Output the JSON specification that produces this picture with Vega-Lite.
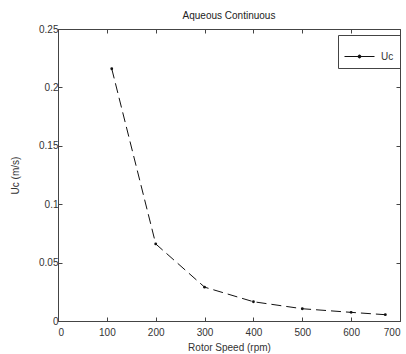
{
  "$schema": "https://vega.github.io/schema/vega-lite/v6.json",
  "autosize": {"type": "none"},
  "width": 342,
  "height": 292,
  "padding": {"left": 58, "top": 29, "right": 6, "bottom": 33},
  "background": "white",
  "title": {"text": "Aqueous Continuous", "font": "Liberation Sans", "fontSize": 10, "fontWeight": "normal", "color": "#222", "offset": 3},
  "config": {
    "view": {"stroke": "#444", "strokeWidth": 1},
    "axis": {"grid": false, "domainColor": "#444", "tickColor": "#444", "labelFont": "Liberation Sans", "labelFontSize": 10, "labelColor": "#333", "titleFont": "Liberation Sans", "titleFontSize": 10, "titleFontWeight": "normal", "titleColor": "#333", "tickSize": -4, "labelPadding": 4}
  },
  "data": {"values": [
    {"rpm": 110, "uc": 0.216, "series": "Uc"},
    {"rpm": 200, "uc": 0.066, "series": "Uc"},
    {"rpm": 300, "uc": 0.029, "series": "Uc"},
    {"rpm": 400, "uc": 0.0165, "series": "Uc"},
    {"rpm": 500, "uc": 0.0105, "series": "Uc"},
    {"rpm": 600, "uc": 0.0074, "series": "Uc"},
    {"rpm": 670, "uc": 0.0054, "series": "Uc"}
  ]},
  "layer": [
    {
      "mark": {"type": "line", "strokeDash": [10, 5], "strokeWidth": 1},
      "encoding": {
        "x": {"field": "rpm", "type": "quantitative", "scale": {"domain": [0, 700], "nice": false}, "axis": {"values": [0, 100, 200, 300, 400, 500, 600, 700], "title": "Rotor Speed (rpm)", "titlePadding": 5, "labelPadding": 10}},
        "y": {"field": "uc", "type": "quantitative", "scale": {"domain": [0, 0.25], "nice": false}, "axis": {"values": [0, 0.05, 0.1, 0.15, 0.2, 0.25], "format": ".2~f", "title": "Uc (m/s)", "titlePadding": 18}},
        "color": {"field": "series", "type": "nominal", "scale": {"range": ["#111"]}, "legend": {"title": null, "orient": "none", "legendX": 280, "legendY": 6, "strokeColor": "#444", "padding": 6, "symbolType": "M-1,0H1M-0.1,0A0.1,0.1 0 1,1 0.1,0A0.1,0.1 0 1,1 -0.1,0Z", "symbolSize": 900, "symbolStrokeWidth": 1, "symbolDash": [], "symbolFillColor": "#111", "symbolStrokeColor": "#111", "labelFont": "Liberation Sans", "labelFontSize": 10, "labelColor": "#333", "labelOffset": 6, "encode": {"symbols": {"update": {"fill": {"value": "#111"}, "stroke": {"value": "#111"}, "strokeDash": {"value": []}}}}}}
      }
    },
    {
      "mark": {"type": "point", "filled": true, "size": 8, "color": "#111", "opacity": 1},
      "encoding": {
        "x": {"field": "rpm", "type": "quantitative", "axis": {"orient": "top", "values": [0, 100, 200, 300, 400, 500, 600, 700], "labels": false, "domain": false, "title": null}},
        "y": {"field": "uc", "type": "quantitative", "axis": {"orient": "right", "values": [0, 0.05, 0.1, 0.15, 0.2, 0.25], "labels": false, "domain": false, "title": null}}
      }
    }
  ],
  "resolve": {"axis": {"x": "independent", "y": "independent"}}
}
